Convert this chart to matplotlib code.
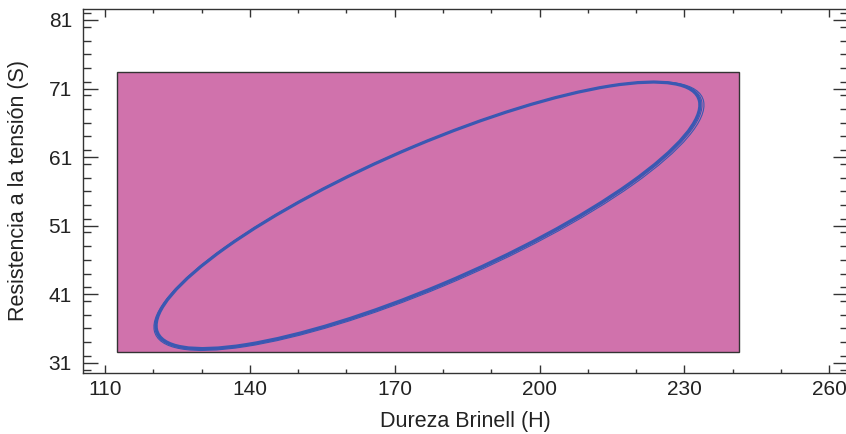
import matplotlib
matplotlib.use("Agg")
import matplotlib.pyplot as plt
from matplotlib.patches import Rectangle, Ellipse
from matplotlib.ticker import MultipleLocator

plt.rcParams['font.family'] = ['Liberation Sans', 'DejaVu Sans']

# shaded region (x0, y0, x1, y1)
region_x = [112.4, 241.3]
region_y = [32.5, 73.45]

# ellipse contours: centre, full width, full height, angle (deg, data units)
ell_cx = [176.9, 177.1, 177.0]
ell_cy = [52.5, 52.4, 52.45]
ell_w = [117.3, 118.6, 118.0]
ell_h = [20.9, 21.3, 21.1]
ell_ang = [16.5, 16.4, 16.45]
ell_lw = [2.3, 0.8, 0.8]

x_ticks = [110, 140, 170, 200, 230, 260]
y_ticks = [31, 41, 51, 61, 71, 81]

fill_col = '#d072ac'
line_col = '#3a58b2'

fig = plt.figure(figsize=(8.46, 4.34), dpi=100)
ax = fig.add_axes([83 / 846, 1 - 372.7 / 434, (848 - 83) / 846, (372.7 - 9) / 434])

ax.add_patch(Rectangle((region_x[0], region_y[0]), region_x[1] - region_x[0],
                       region_y[1] - region_y[0], facecolor=fill_col,
                       edgecolor='#333333', lw=1.0, zorder=1))
for i in range(len(ell_cx)):
    ax.add_patch(Ellipse((ell_cx[i], ell_cy[i]), ell_w[i], ell_h[i], angle=ell_ang[i],
                         fill=False, edgecolor=line_col, lw=ell_lw[i], zorder=2))

ax.set_xlim(105.44, 263.9)
ax.set_ylim(29.54, 82.6)
ax.set_xticks(x_ticks)
ax.set_yticks(y_ticks)
ax.xaxis.set_minor_locator(MultipleLocator(10))
ax.yaxis.set_minor_locator(MultipleLocator(2))

for s in ax.spines.values():
    s.set_color('#333333')
    s.set_linewidth(1.0)

ax.tick_params(axis='x', which='major', direction='in', top=True, length=5.5,
               width=1.0, color='#333333', labelsize=15, pad=5)
ax.tick_params(axis='x', which='minor', direction='in', top=True, length=3,
               width=1.0, color='#333333')
ax.tick_params(axis='y', which='major', direction='in', right=True, length=11,
               width=1.0, color='#333333', labelsize=15, pad=8)
ax.tick_params(axis='y', which='minor', direction='in', right=True, length=5.8,
               width=1.0, color='#333333')

ax.set_xlabel('Dureza Brinell (H)', fontsize=15.5, color='#222222', labelpad=9)
ax.set_ylabel('Resistencia a la tensión (S)', fontsize=15.5, color='#222222', labelpad=14)
for lab in ax.get_xticklabels() + ax.get_yticklabels():
    lab.set_color('#222222')

fig.savefig('out.png', dpi=100)
